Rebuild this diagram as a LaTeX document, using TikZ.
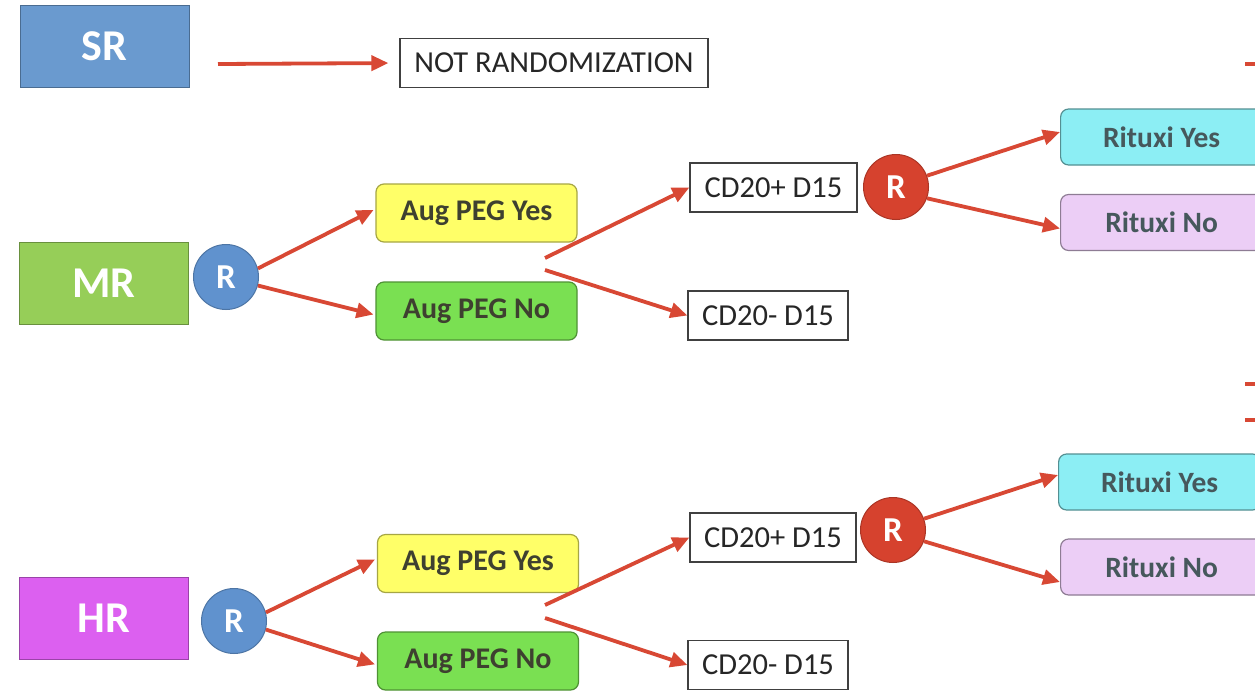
\documentclass[tikz,border=0pt]{standalone}
\usepackage{fontspec}
\setmainfont{Carlito}
\usetikzlibrary{arrows.meta}
\definecolor{srblue}{RGB}{106,154,207}
\definecolor{mrgreen}{RGB}{150,206,88}
\definecolor{hrpink}{RGB}{220,96,240}
\definecolor{rblue}{RGB}{96,146,206}
\definecolor{rred}{RGB}{214,66,46}
\definecolor{arrred}{RGB}{216,72,52}
\definecolor{yell}{RGB}{255,255,104}
\definecolor{gno}{RGB}{122,224,82}
\definecolor{cyanb}{RGB}{140,238,244}
\definecolor{lav}{RGB}{236,206,246}
\definecolor{dtext}{RGB}{62,64,48}
\definecolor{stext}{RGB}{70,88,92}
\tikzset{
  riskbox/.style={draw=#1!70!black, fill=#1, line width=1pt, minimum width=169, minimum height=82, inner sep=0, text=white, font=\bfseries\fontsize{44}{52}\selectfont},
  rcirc/.style={circle, draw=#1!80!black, fill=#1, line width=1pt, minimum size=65, inner sep=0, text=white, font=\bfseries\fontsize{35}{42}\selectfont},
  plainbox/.style={draw=black!75, fill=white, line width=1.2pt, inner sep=0, minimum height=49, font=\fontsize{30.5}{36}\selectfont, text=black!85},
  optbox/.style={draw=#1!65!black, fill=#1, line width=1.2pt, rounded corners=8pt, inner sep=0, minimum width=201, minimum height=58, font=\bfseries\fontsize{30}{36}\selectfont, text=dtext},
  ritbox/.style={draw=#1!60!black, fill=#1, line width=1.2pt, rounded corners=8pt, inner sep=0, minimum width=202, minimum height=56, font=\bfseries\fontsize{29.5}{35}\selectfont, text=stext},
  arr/.style={draw=arrred, line width=3.8pt, -{Triangle[length=17pt,width=15pt]}},
  stub/.style={draw=arrred, line width=3.8pt}
}
\begin{document}
\begin{tikzpicture}[x=1pt,y=-1pt]
\useasboundingbox (0,0) rectangle (1255,691);
\clip (0,0) rectangle (1255,691);
\fill[white] (0,0) rectangle (1255,691);
% SR row
\node[riskbox=srblue] (sr) at (104.5,46.5) {SR};
\node[plainbox, minimum width=308] (notr) at (554,63) {NOT RANDOMIZATION};
\coordinate (srs) at (218,64);
\draw[arr, shorten >=11pt] (srs) -- (notr.west);
% MR block
\node[riskbox=mrgreen] (mr) at (104,283.5) {MR};
\node[rcirc=rblue] (r1) at (226,277) {R};
\node[optbox=yell] (ay1) at (476.5,213) {Aug PEG Yes};
\node[optbox=gno] (an1) at (476.5,311) {Aug PEG No};
\draw[arr, shorten >=2pt] (r1.15) -- ([yshift=4pt]ay1.west);
\draw[arr, shorten >=2pt] (r1.-15) -- ([yshift=-4pt]an1.west);
\coordinate (m1a) at (545,258);
\coordinate (m1b) at (545,270);
\node[plainbox, minimum width=167] (cp1) at (773.5,187.5) {CD20+ D15};
\node[plainbox, minimum width=160] (cm1) at (768,315.5) {CD20- D15};
\draw[arr] (m1a) -- (cp1.west);
\draw[arr] (m1b) -- (cm1.west);
\node[rcirc=rred] (rr1) at (896,187) {R};
\node[ritbox=cyanb, anchor=west] (ry1) at (1060,137) {Rituxi Yes};
\node[ritbox=lav, anchor=west] (rn1) at (1060,222.5) {Rituxi No};
\draw[arr] (rr1.20) -- ([yshift=5pt]ry1.west);
\draw[arr] (rr1.-20) -- ([yshift=-6pt]rn1.west);
% HR block
\node[riskbox=hrpink] (hr) at (104,618.5) {HR};
\node[rcirc=rblue] (r2) at (234,621) {R};
\node[optbox=yell] (ay2) at (478,563.5) {Aug PEG Yes};
\node[optbox=gno] (an2) at (478,661) {Aug PEG No};
\draw[arr, shorten >=2pt] (r2.15) -- ([yshift=5pt]ay2.west);
\draw[arr, shorten >=2pt] (r2.-15) -- ([yshift=-4pt]an2.west);
\coordinate (m2a) at (545,605);
\coordinate (m2b) at (545,618);
\node[plainbox, minimum width=166] (cp2) at (773,537.5) {CD20+ D15};
\node[plainbox, minimum width=160] (cm2) at (768,665) {CD20- D15};
\draw[arr] (m2a) -- (cp2.west);
\draw[arr] (m2b) -- (cm2.west);
\node[rcirc=rred] (rr2) at (893,530) {R};
\node[ritbox=cyanb, anchor=west] (ry2) at (1058,482) {Rituxi Yes};
\node[ritbox=lav, anchor=west] (rn2) at (1060,567) {Rituxi No};
\draw[arr] (rr2.20) -- ([yshift=7pt]ry2.west);
\draw[arr] (rr2.-20) -- ([yshift=-15pt]rn2.west);
% cut-off stubs at right edge
\coordinate (s1a) at (1245,64);  \coordinate (s1b) at (1258,64);
\coordinate (s2a) at (1245,384); \coordinate (s2b) at (1258,384);
\coordinate (s3a) at (1245,420); \coordinate (s3b) at (1258,420);
\draw[stub] (s1a) -- (s1b);
\draw[stub] (s2a) -- (s2b);
\draw[stub] (s3a) -- (s3b);
\end{tikzpicture}
\end{document}
